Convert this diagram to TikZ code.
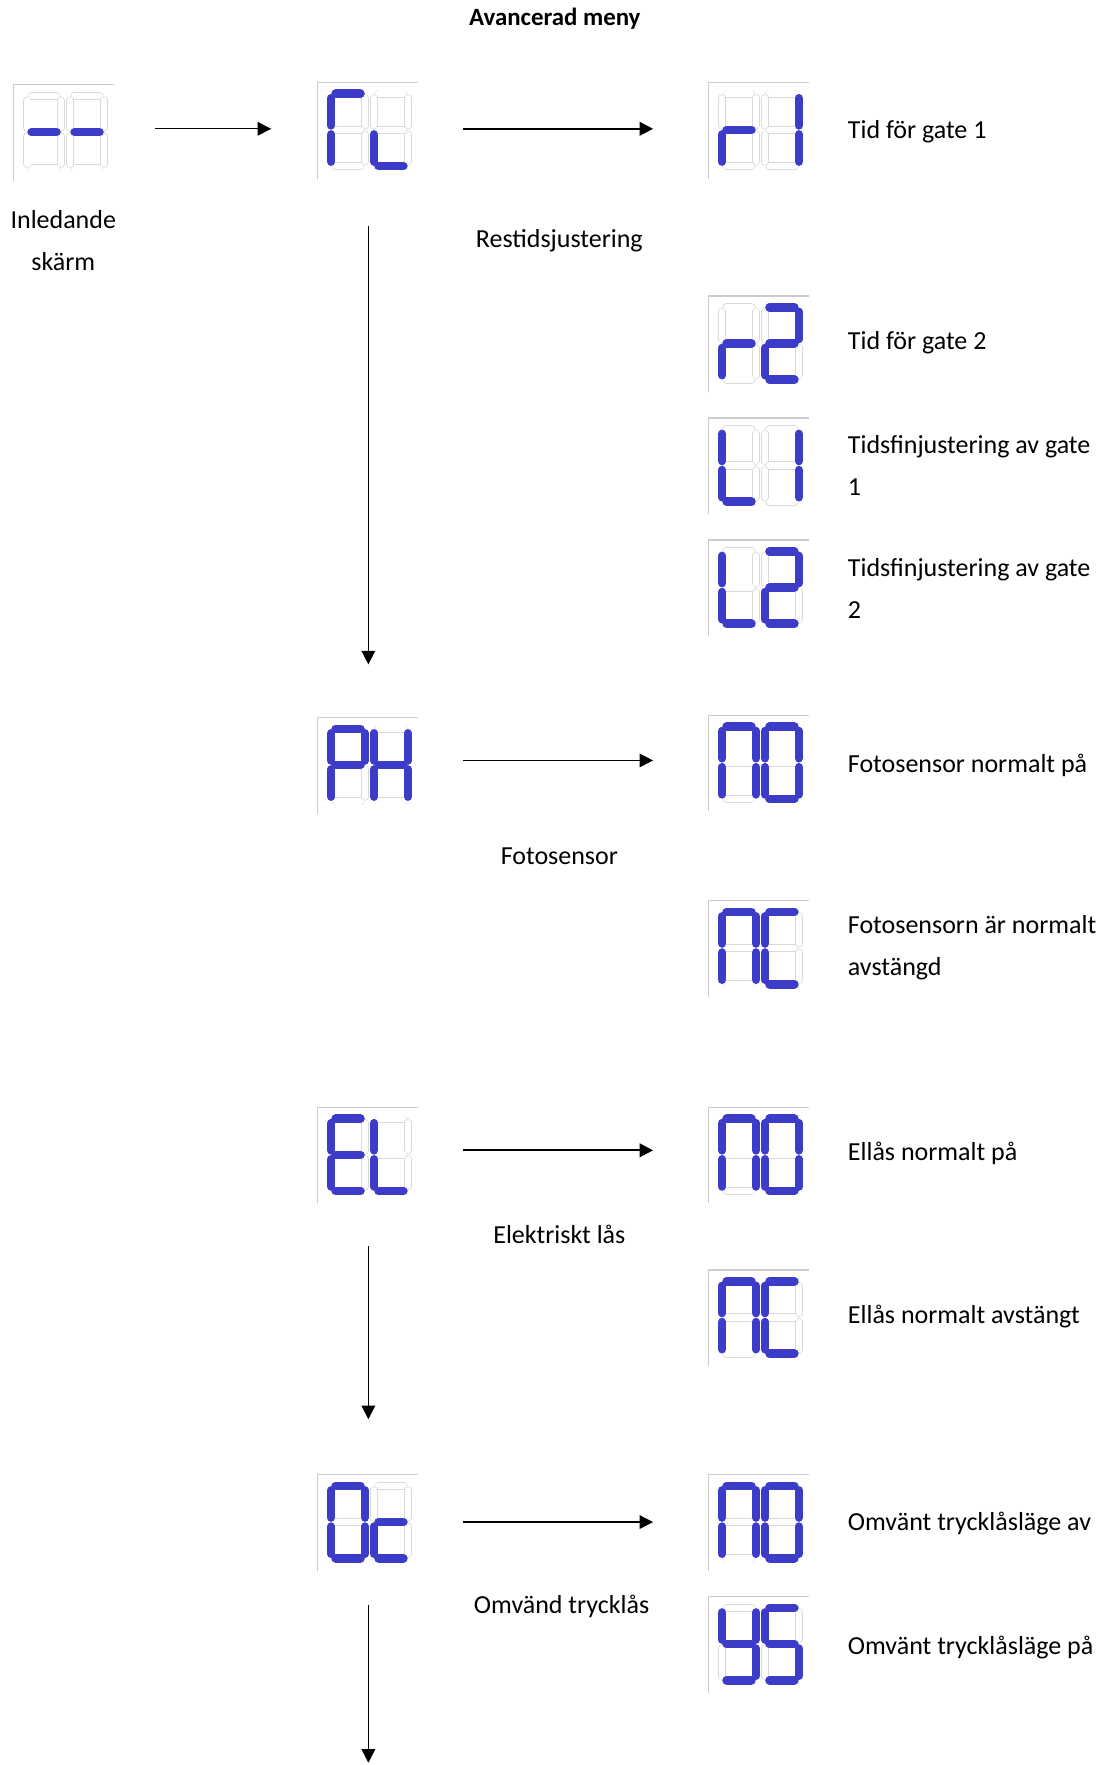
\documentclass[tikz,border=0pt]{standalone}
\usepackage{fontspec}
\setmainfont{Carlito}
\usetikzlibrary{arrows.meta}
\def\sga{(4,0)--(26,0)}
\def\sgb{(30,4)--(30,28)}
\def\sgc{(30,36)--(30,60)}
\def\sgd{(4,64)--(26,64)}
\def\sge{(0,36)--(0,60)}
\def\sgf{(0,4)--(0,28)}
\def\sgg{(4,32)--(26,32)}
\newcommand\sdigit[3]{\begin{scope}[shift={(#1,#2)}]
 \foreach \s in {a,b,c,d,e,f,g}{\edef\pth{\csname sg\s\endcsname}\draw[faintseg] \pth;}
 \foreach \s in {#3}{\edef\pth{\csname sg\s\endcsname}\draw[litseg] \pth;}
\end{scope}}
\newcommand\disp[5]{%
 \node[dispbox] (#1) at (#2+44,#3+42) {};
 \begin{scope}[shift={(#2,#3)}]
  \draw[boxline] (0,85)--(0,0)--(89,0);
  \sdigit{12}{10}{#4}\sdigit{50}{10}{#5}
 \end{scope}}
\begin{document}
\begin{tikzpicture}[x=0.5pt,y=-0.5pt,
 dispbox/.style={minimum width=44pt,minimum height=42pt,draw=none,inner sep=0},
 boxline/.style={draw=gray!40,line width=0.6pt},
 faintseg/.style={draw=gray!30,line width=0.3pt,double=white,double distance=3pt,line cap=round},
 litseg/.style={draw={rgb,255:red,60;green,60;blue,200},line width=3.8pt,line cap=round},
 arr/.style={-{Triangle[length=6pt,width=6pt]},line width=0.6pt},
 lbl/.style={font=\fontsize{11.5}{18.5}\selectfont,anchor=west,align=left,inner sep=0},
 ctr/.style={font=\fontsize{11.5}{18.5}\selectfont,align=center,inner sep=0}]
\useasboundingbox (0,0) rectangle (979,1562);
\node[ctr,font=\fontsize{11}{18.5}\selectfont\bfseries] (title) at (491,17) {Avancerad meny};
\disp{dd}{12}{75}{g}{g}
\disp{rl}{281}{73}{a,f,e}{e,d}
\disp{r1}{627}{73}{g,e}{b,c}
\disp{r2}{627}{262}{g,e}{a,b,g,e,d}
\disp{t1}{627}{370}{f,e,d}{b,c}
\disp{t2}{627}{478}{f,e,d}{a,b,g,e,d}
\disp{ph}{281}{635}{a,b,f,g,e}{f,b,g,e,c}
\disp{no1}{627}{633}{a,b,c,e,f}{a,b,c,d,e,f}
\disp{nc1}{627}{797}{a,b,c,e,f}{a,f,e,d}
\disp{el}{281}{980}{a,f,g,e,d}{f,e,d}
\disp{no2}{627}{980}{a,b,c,e,f}{a,b,c,d,e,f}
\disp{nc2}{627}{1124}{a,b,c,e,f}{a,f,e,d}
\disp{oc}{281}{1305}{a,b,c,d,e,f}{g,e,d}
\disp{no3}{627}{1305}{a,b,c,e,f}{a,b,c,d,e,f}
\disp{ys}{627}{1413}{b,c,d,f,g}{a,f,g,c,d}
\node[ctr] (init) at (56,213) {Inledande\\skärm};
\node[ctr] (lrl) at (495,213) {Restidsjustering};
\node[ctr] (lph) at (495,758) {Fotosensor};
\node[ctr] (lel) at (495,1092) {Elektriskt lås};
\node[ctr] (loc) at (497,1422) {Omvänd trycklås};
\node[lbl] (tr1) at (750,117) {Tid för gate 1};
\node[lbl] (tr2) at (750,303) {Tid för gate 2};
\node[lbl] (tt1) at (750,412) {Tidsfinjustering av gate\\1};
\node[lbl] (tt2) at (750,521) {Tidsfinjustering av gate\\2};
\node[lbl] (tno1) at (750,677) {Fotosensor normalt på};
\node[lbl] (tnc1) at (750,839) {Fotosensorn är normalt\\avstängd};
\node[lbl] (tno2) at (750,1021) {Ellås normalt på};
\node[lbl] (tnc2) at (750,1165) {Ellås normalt avstängt};
\node[lbl] (tno3) at (750,1348) {Omvänt trycklåsläge av};
\node[lbl] (tys) at (750,1458) {Omvänt trycklåsläge på};
\coordinate (a1s) at (137,114); \coordinate (a1e) at (240,114);
\coordinate (a2s) at (410,114); \coordinate (a2e) at (578,114);
\coordinate (v1s) at (326,200); \coordinate (v1e) at (326,588);
\coordinate (a3s) at (410,673); \coordinate (a3e) at (578,673);
\coordinate (a4s) at (410,1018); \coordinate (a4e) at (578,1018);
\coordinate (v2s) at (326,1103); \coordinate (v2e) at (326,1256);
\coordinate (a5s) at (410,1347); \coordinate (a5e) at (578,1347);
\coordinate (v3s) at (326,1420); \coordinate (v3e) at (326,1560);
\draw[arr] (a1s)--(a1e);
\draw[arr,line width=1pt] (a2s)--(a2e);
\draw[arr] (v1s)--(v1e);
\draw[arr] (a3s)--(a3e);
\draw[arr,line width=1pt] (a4s)--(a4e);
\draw[arr] (v2s)--(v2e);
\draw[arr] (a5s)--(a5e);
\draw[arr] (v3s)--(v3e);
\end{tikzpicture}
\end{document}
